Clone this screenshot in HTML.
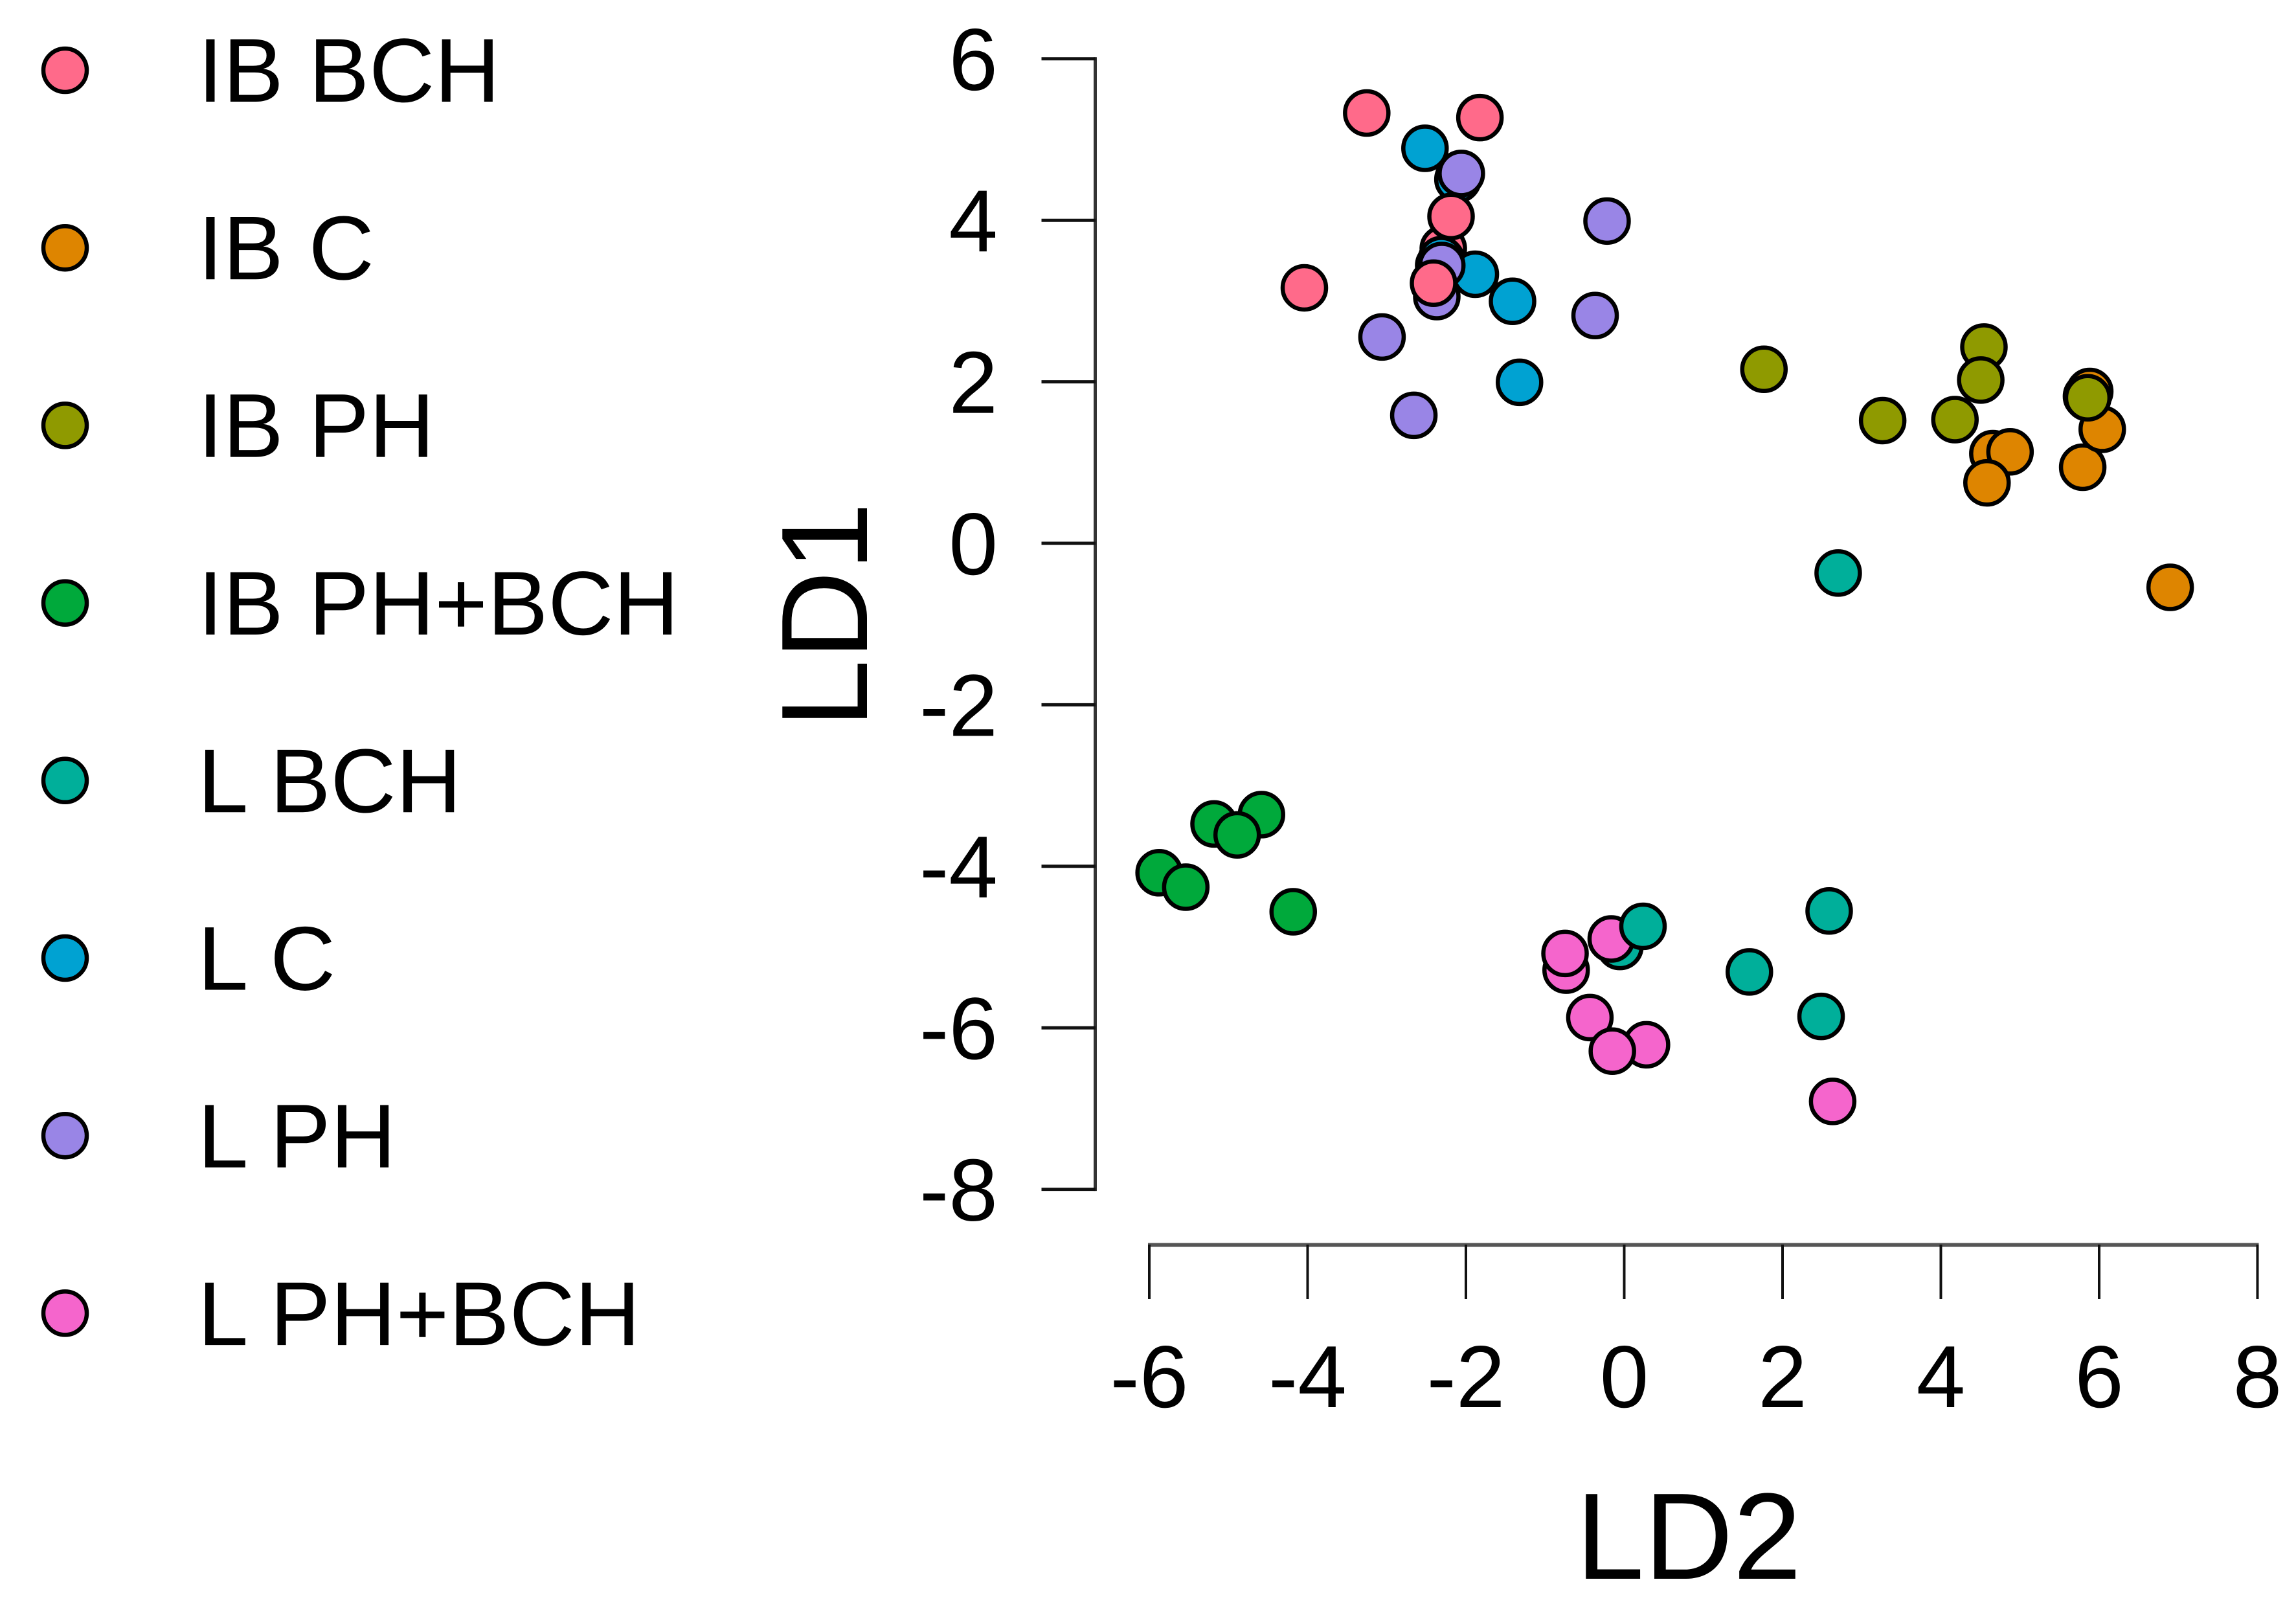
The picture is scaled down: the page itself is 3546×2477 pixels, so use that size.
<!DOCTYPE html>
<html lang="en">
<head>
<meta charset="utf-8">
<title>LD1 vs LD2 scatter plot</title>
<style>
html,body{margin:0;padding:0;background:#fff;}
body{width:3546px;height:2477px;overflow:hidden;}
svg{display:block;}
text{font-family:"Liberation Sans",Arial,sans-serif;fill:#000;}
</style>
</head>
<body>
<svg id="chart" xmlns="http://www.w3.org/2000/svg" width="3546" height="2477" viewBox="0 0 3546 2477">
  <rect x="0" y="0" width="3546" height="2477" fill="#ffffff"/>
  <g id="legend"></g>
  <g id="y-axis"></g>
  <g id="x-axis"></g>
  <g id="points"></g>
  <text x="2608" y="2438" font-size="190" text-anchor="middle">LD2</text>
  <text transform="translate(1339,950) rotate(-90)" font-size="190" text-anchor="middle">LD1</text>
</svg>
<script>
const groupNames = ["IB BCH","IB C","IB PH","IB PH+BCH","L BCH","L C","L PH","L PH+BCH"];
const groupColors = ["#FF6A8A","#DE8500","#8F9A00","#00A93B","#00AF9A","#00A2D2","#9985E6","#F565CC"];
const xTicks = [-6,-4,-2,0,2,4,6,8];
const yTicks = [6,4,2,0,-2,-4,-6,-8];

// Points are listed in drawing order (later points sit on top).
const pointGroup = [
  1,1,1,1,1,1,1,1,
  2,2,2,2,2,2,
  3,3,3,3,3,3,
  0,
  5,5,5,5,5,5,5,
  6,6,6,6,6,6,6,
  0,0,0,0,0,
  4,
  7,7,7,7,7,7,7,
  4,4,4,4,4
];
const ld2Values = [
  4.657,4.874,4.583,5.792,6.039,5.840,5.881,6.897,
  1.765,3.265,4.178,4.544,4.504,5.856,
  -4.583,-5.182,-4.890,-5.876,-5.539,-4.182,
  -2.286,
  -2.101,-2.344,-2.311,-2.517,-1.881,-1.411,-1.323,
  -2.058,-0.217,-0.368,-3.060,-2.658,-2.368,-2.305,
  -3.253,-1.823,-4.041,-2.188,-2.409,
  -0.055,
  -0.734,-0.748,-0.164,-0.434,0.281,-0.150,2.633,
  2.703,0.237,2.589,1.581,2.487
];
const ld1Values = [
  1.111,1.133,0.749,0.942,1.412,1.820,1.881,-0.545,
  2.155,1.520,1.532,2.431,2.022,1.802,
  -3.360,-3.475,-3.611,-4.080,-4.258,-4.563,
  3.649,
  4.507,3.440,3.512,4.892,3.332,2.997,1.994,
  4.580,3.991,2.821,2.555,1.585,3.055,3.440,
  5.329,5.272,3.164,4.048,3.222,
  -4.993,
  -5.286,-5.079,-4.900,-5.873,-6.210,-6.289,-6.912,
  -0.368,-4.743,-4.553,-5.308,-5.859
];

const SVGNS = "http://www.w3.org/2000/svg";
function xScale(v){ return 2508.5 + v * 122.25; }
function yScale(v){ return 839 - v * 124.7; }
function make(tag, attrs, parent){
  const el = document.createElementNS(SVGNS, tag);
  for (const k in attrs) el.setAttribute(k, attrs[k]);
  parent.appendChild(el);
  return el;
}
const legendG = document.getElementById("legend");
const yAxisG = document.getElementById("y-axis");
const xAxisG = document.getElementById("x-axis");
const pointsG = document.getElementById("points");

groupNames.forEach(function(name, i){
  const cy = 108.5 + i * 274.2;
  const marker = make("circle", {cx:100.5, cy:cy, r:33.5, fill:groupColors[i], stroke:"#000", "stroke-width":6.5}, legendG);
  
  
  const label = make("text", {x:305.5, y:157 + i * 274.3, "font-size":140}, legendG);
  
  
  label.textContent = name;
});

const yLine = make("line", {x1:1691.5, x2:1691.5, y1:yScale(yTicks[0]) - 2.5, y2:yScale(yTicks[yTicks.length-1]) + 2.5, stroke:"#333", "stroke-width":5}, yAxisG);


yTicks.forEach(function(t){
  const y = yScale(t);
  const tick = make("line", {x1:1608.5, x2:1692, y1:y, y2:y, stroke:"#111", "stroke-width":5}, yAxisG);
  
  
  const label = make("text", {x:1541, y:y + 48, "font-size":136, "text-anchor":"end"}, yAxisG);
  
  
  label.textContent = String(t);
});

const xLine = make("line", {x1:xScale(xTicks[0]) - 2, x2:xScale(xTicks[xTicks.length-1]) + 2, y1:1922.5, y2:1922.5, stroke:"#555", "stroke-width":6}, xAxisG);


xTicks.forEach(function(t){
  const x = xScale(t);
  const tick = make("line", {x1:x, x2:x, y1:1922, y2:2006, stroke:"#111", "stroke-width":4}, xAxisG);
  
  
  const label = make("text", {x:x, y:2173, "font-size":136, "text-anchor":"middle"}, xAxisG);
  
  
  label.textContent = String(t);
});

ld2Values.forEach(function(v, i){
  const pt = make("circle", {cx:xScale(v), cy:yScale(ld1Values[i]), r:33.5, fill:groupColors[pointGroup[i]], stroke:"#000", "stroke-width":6.5}, pointsG);
  
  
});
</script>
</body>
</html>
